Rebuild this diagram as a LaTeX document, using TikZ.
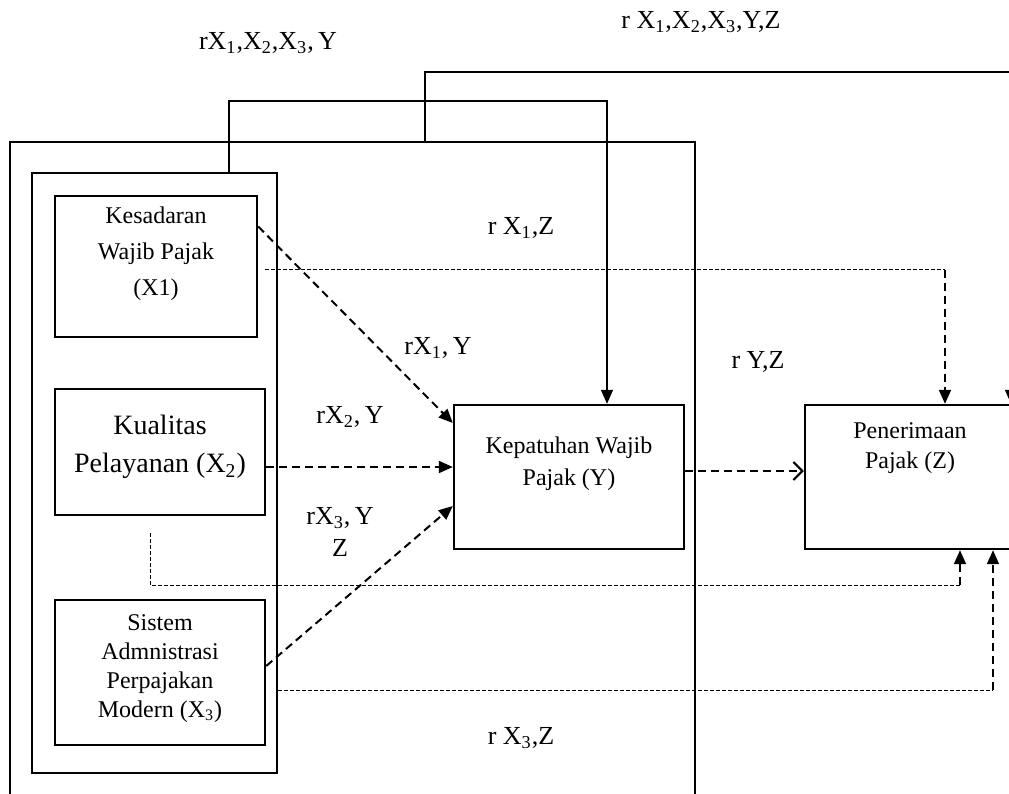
\documentclass[tikz,border=0pt]{standalone}
\usepackage{fontspec}
\setmainfont{Liberation Serif}
\usetikzlibrary{arrows.meta,calc}

\newcommand{\sbs}[1]{\textsubscript{#1}}

\begin{document}
\begin{tikzpicture}[x=0.5pt, y=-0.5pt,
    box/.style={draw, line width=1.2pt, inner sep=0pt},
    lbl/.style={font=\fontsize{13}{16}\selectfont},
    boxtext/.style={align=center, font=\fontsize{12}{#1}\selectfont},
    link/.style={line width=0.7pt},
    dlink/.style={line width=1pt, dash pattern=on 4pt off 2.5pt},
    fine/.style={line width=0.5pt, dash pattern=on 2pt off 1pt},
    tip/.style={-{Triangle[length=7pt,width=6pt]}}
]
    \useasboundingbox (0,0) rectangle (1009,794);
    \clip (0,0) rectangle (1009,794);

    % frames
    \node[box, minimum width=342.5pt, minimum height=349pt] (outer) at (352.5,491) {};
    \node[box, minimum width=122.5pt, minimum height=300pt] (inner) at (154.5,473) {};

    % variables
    \node[box, minimum width=101pt, minimum height=70.5pt,
        label={[boxtext=18, yshift=6.5pt]center:{Kesadaran\\Wajib Pajak\\(X1)}}] (X1) at (156,266.5) {};
    \node[box, minimum width=105pt, minimum height=63pt,
        label={[boxtext=19, font=\fontsize{14}{19}\selectfont, yshift=2.5pt]center:{Kualitas\\Pelayanan (X\sbs{2})}}] (X2) at (160,452) {};
    \node[box, minimum width=105pt, minimum height=72.5pt,
        label={[boxtext=14.5, yshift=2pt]center:{Sistem\\Admnistrasi\\Perpajakan\\Modern (X\sbs{3})}}] (X3) at (160,672.5) {};
    \node[box, minimum width=115pt, minimum height=72pt,
        label={[boxtext=16, yshift=6.5pt]center:{Kepatuhan Wajib\\Pajak (Y)}}] (Y) at (569,477) {};
    \node[box, minimum width=105pt, minimum height=72pt,
        label={[boxtext=15, yshift=14.5pt]center:{Penerimaan\\Pajak (Z)}}] (Z) at (910,477) {};

    % coefficients
    \node[lbl] (rXY) at (268,43) {rX\sbs{1},X\sbs{2},X\sbs{3},\,Y};
    \node[lbl] (rXYZ) at (701,22) {r X\sbs{1},X\sbs{2},X\sbs{3},Y,Z};
    \node[lbl] (rX1Z) at (521,228) {r X\sbs{1},Z};
    \node[lbl] (rX1Y) at (438,348) {rX\sbs{1},\,Y};
    \node[lbl] (rYZ) at (758,362) {r Y,Z};
    \node[lbl] (rX2Y) at (350,417) {rX\sbs{2},\,Y};
    \node[lbl, align=center] (rX3Y) at (340,532) {rX\sbs{3},\,Y\\Z};
    \node[lbl] (rX3Z) at (521,738) {r X\sbs{3},Z};

    % joint paths over the top
    \draw[link, tip] ($(inner.north)+(74.5,0)$) -- ++(0,-71) -| ($(Y.north)+(38,0)$);
    \draw[link, tip] ($(outer.north)+(72.5,0)$) -- ++(0,-69) -| ($(Z.north)+(101,0)$);

    % X -> Y
    \draw[dlink, tip] ($(X1.east)+(0,-40)$) -- ($(Y.west)+(0,-54)$);
    \draw[dlink, tip] ($(X2.east)+(0,15)$) -- ($(Y.west)+(0,-10)$);
    \draw[dlink, tip] ($(X3.east)+(0,-6.5)$) -- ($(Y.west)+(0,29)$);

    % Y -> Z
    \draw[dlink, -{Straight Barb[length=4.5pt,width=9pt]}] ($(Y.east)+(0,-6)$) -- ($(Z.west)+(0,-6)$);

    % X -> Z
    \coordinate (zinA) at ($(Z.north)+(35,0)$);
    \coordinate (zinB) at ($(Z.south)+(50,0)$);
    \coordinate (zinC) at ($(Z.south)+(83,0)$);
    \draw[fine] ($(X1.east)+(7,3)$) coordinate (fa) -- (fa -| zinA);
    \draw[dlink, tip] (fa -| zinA) -- (zinA);
    \draw[fine] ($(X2.south)+(-10,17)$) -- ++(0,52) coordinate (fb) -- (fb -| zinB);
    \draw[dlink, tip] (fb -| zinB) -- (zinB);
    \draw[fine] ($(inner.east)+(0,217)$) coordinate (fc) -- (fc -| zinC);
    \draw[dlink, tip] (fc -| zinC) -- (zinC);
\end{tikzpicture}
\end{document}
